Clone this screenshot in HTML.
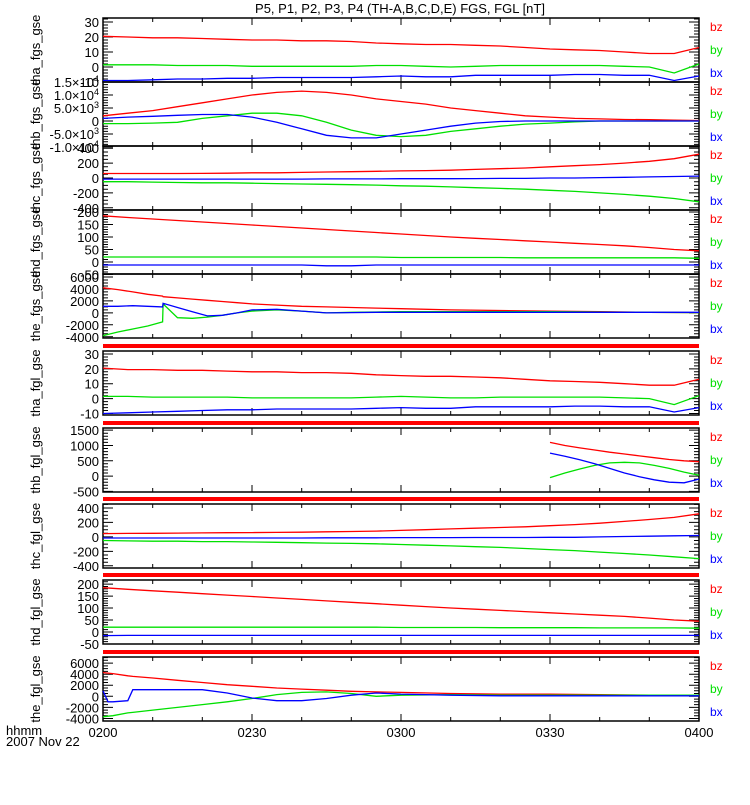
<!DOCTYPE html>
<html><head><meta charset="utf-8"><style>
html,body{margin:0;padding:0;background:#fff;}
svg text{font-family:"Liberation Sans",sans-serif;}
</style></head><body>
<svg id="chart" width="750" height="800" xmlns="http://www.w3.org/2000/svg">
<rect x="0" y="0" width="750" height="800" fill="#fff"/>
<text x="400" y="13" font-size="13" text-anchor="middle">P5, P1, P2, P3, P4 (TH-A,B,C,D,E) FGS, FGL [nT]</text>
<text x="6" y="735" font-size="13">hhmm</text>
<text x="6" y="746" font-size="13">2007 Nov 22</text>
<g id="panels"></g>
</svg>
<script>
const T = [0,5,10,15,20,25,30,35,40,45,50,55,60,65,70,75,80,85,90,95,100,105,110,115,120];
const xTickLabels = ["0200","0230","0300","0330","0400"];

const p1Bz = [20.5,20,19.5,19.5,19,18.5,18,18,17.5,17.5,17,16,15.5,15,15,14.5,14,13,12,11.5,11,10,9,9,13];
const p1By = [1.5,1.5,1.5,1,1,1,0.5,0.5,0.5,0.5,0.5,1,1,0.5,0,0.5,1,1,1,1,1,0.5,0,-4,2];
const p1Bx = [-9,-9,-8.5,-8,-8,-7.5,-7.5,-7,-7,-7,-7,-6.5,-6,-6.5,-6.5,-5.5,-5.5,-5.5,-5.5,-5,-5,-5.5,-5.5,-9,-6];

const p2Bz = [2000,3000,4000,5500,7000,8500,10000,11000,11500,11000,10000,8500,7500,6500,5000,4000,3000,2000,1500,1000,800,600,500,300,200];
const p2By = [-1000,-1000,-800,-500,1000,2000,3000,3000,2000,-500,-3500,-5500,-6000,-5500,-4000,-3000,-2000,-1200,-800,-300,0,0,0,0,0];
const p2Bx = [1000,1500,1800,2200,2500,2500,1500,-500,-3000,-5500,-6500,-6500,-5000,-3500,-2000,-800,-200,0,0,0,0,0,0,0,0];

const p3Bz = [60,60,60,60,62,65,70,70,75,80,85,90,95,100,105,115,125,135,150,165,180,200,225,260,320];
const p3By = [-50,-50,-55,-60,-65,-65,-70,-75,-80,-85,-90,-95,-105,-110,-120,-130,-140,-150,-165,-180,-200,-220,-245,-275,-320];
const p3Bx = [-15,-15,-15,-15,-15,-15,-15,-15,-15,-12,-12,-12,-10,-10,-10,-8,-5,-5,0,0,5,10,15,20,25];

const p4Bz = [185,178,172,166,160,154,148,142,136,130,124,118,112,106,100,95,90,85,80,75,70,65,58,50,45];
const p4By = [20,20,20,20,20,20,20,20,20,20,20,20,18,18,18,18,18,17,17,17,17,17,17,17,15];
const p4Bx = [-12,-12,-12,-12,-12,-12,-12,-12,-12,-15,-15,-12,-12,-12,-12,-12,-12,-12,-12,-12,-12,-12,-12,-12,-12];

const T5 = [0,3,6,9,12,12.1,15,18,21,24,27,30,35,40,45,50,55,60,70,80,90,100,110,120];
const p5Bz = [4200,3900,3500,3100,2800,2700,2500,2300,2100,1900,1700,1500,1300,1100,1000,900,800,700,500,400,300,200,100,50];
const p5By = [-3800,-3200,-2700,-2200,-1500,1500,-800,-900,-700,-400,0,300,500,300,0,100,150,200,200,200,200,150,100,50];
const p5Bx = [1100,1100,1200,1100,1000,1600,900,200,-500,-400,0,500,600,300,0,50,100,100,100,100,100,100,100,100];

const p6Bz = [20.5,19.5,19.5,19,19,18.5,18,18,17.5,17.5,17,16,15.5,15,15,14.5,14,13,12,11.5,11,10,9,9,13];
const p6By = [1.5,1.5,1,1,1,1,0.5,0.5,0.5,0.5,0.5,1,1.5,1,0.5,0.5,1,1,1,1,1,0.5,0,-4,2];
const p6Bx = [-10,-9.5,-9,-8.5,-8,-7.5,-7.5,-7,-7,-7,-7,-6.5,-6,-6.5,-6.5,-5.5,-5.5,-5.5,-5.5,-5,-5,-5.5,-5.5,-9,-6];

const T7 = [90,93,96,99,102,105,108,111,114,117,120];
const p7Bz = [1100,1000,920,850,780,720,660,600,540,500,470];
const p7By = [-50,100,230,350,430,450,430,350,250,130,30];
const p7Bx = [750,650,530,400,250,100,-20,-120,-200,-220,-100];

const p8Bz = [45,48,50,52,55,58,60,62,65,70,75,80,90,100,110,120,130,140,155,170,190,215,240,270,320];
const p8By = [-50,-55,-60,-60,-65,-65,-70,-75,-80,-85,-90,-95,-105,-115,-125,-135,-145,-160,-175,-190,-210,-230,-250,-275,-300];
const p8Bx = [-15,-15,-15,-15,-15,-15,-15,-15,-15,-12,-12,-12,-10,-10,-10,-8,-8,-8,-5,-5,0,5,10,15,20];

const p9Bz = [185,178,172,166,160,154,148,142,136,130,124,118,112,106,100,95,90,85,80,75,70,65,58,50,45];
const p9By = [20,20,20,20,20,20,20,20,20,20,20,20,19,19,19,19,18,18,18,18,17,17,17,17,16];
const p9Bx = [-15,-14,-14,-14,-14,-14,-14,-14,-14,-14,-14,-14,-14,-14,-14,-14,-14,-14,-14,-14,-14,-14,-14,-14,-14];

const T10 = [0,1,2,5,6,10,15,20,25,30,35,40,45,50,55,60,70,80,90,100,110,120];
const p10Bz = [4300,4200,4100,3700,3600,3300,2900,2500,2100,1800,1500,1300,1100,900,800,700,500,400,400,300,200,100];
const p10By = [-3700,-3600,-3500,-3000,-2900,-2500,-2000,-1500,-1000,-400,300,700,800,500,0,200,300,200,200,200,200,200];
const p10Bx = [1000,-1000,-1000,-800,1200,1200,1200,1200,600,-300,-800,-800,-400,200,600,400,200,100,100,100,100,100];

const panelDefs = [
 {name:"tha_fgs_gse",top:18,min:-10,max:32.7,major:[-10,0,10,20,30],minor:2,t:T,bz:p1Bz,by:p1By,bx:p1Bx},
 {name:"thb_fgs_gse",top:82,min:-9600,max:15000,major:[-10000,-5000,0,5000,10000,15000],minor:1000,sci:true,t:T,bz:p2Bz,by:p2By,bx:p2Bx},
 {name:"thc_fgs_gse",top:146,min:-430,max:430,major:[-400,-200,0,200,400],minor:50,t:T,bz:p3Bz,by:p3By,bx:p3Bx},
 {name:"thd_fgs_gse",top:210,min:-48,max:208,major:[-50,0,50,100,150,200],minor:10,t:T,bz:p4Bz,by:p4By,bx:p4Bx},
 {name:"the_fgs_gse",top:274,min:-4200,max:6500,major:[-4000,-2000,0,2000,4000,6000],minor:500,t:T5,bz:p5Bz,by:p5By,bx:p5Bx},
 {name:"tha_fgl_gse",top:351,min:-11,max:32,major:[-10,0,10,20,30],minor:2,t:T,bz:p6Bz,by:p6By,bx:p6Bx,bar:true},
 {name:"thb_fgl_gse",top:428,min:-520,max:1570,major:[-500,0,500,1000,1500],minor:100,t:T7,bz:p7Bz,by:p7By,bx:p7Bx,bar:true},
 {name:"thc_fgl_gse",top:504,min:-430,max:455,major:[-400,-200,0,200,400],minor:50,t:T,bz:p8Bz,by:p8By,bx:p8Bx,bar:true},
 {name:"thd_fgl_gse",top:580,min:-50,max:217,major:[-50,0,50,100,150,200],minor:10,t:T,bz:p9Bz,by:p9By,bx:p9Bx,bar:true},
 {name:"the_fgl_gse",top:657,min:-4460,max:7100,major:[-4000,-2000,0,2000,4000,6000],minor:500,t:T10,bz:p10Bz,by:p10By,bx:p10Bx,bar:true}
];

const NS = "http://www.w3.org/2000/svg";
const X0 = 103, X1 = 699, H = 64;
function xs(t){ return X0 + (X1 - X0) * t / 120; }
function mk(tag, attrs, parent){ const e = document.createElementNS(NS, tag); for (const k in attrs) e.setAttribute(k, attrs[k]); parent.appendChild(e); return e; }
const root = document.getElementById('panels');

panelDefs.forEach(function(p, pi){
  const g = mk('g', {}, root);
  
  
  const top = p.top, bot = p.top + H;
  const ys = function(v){ return bot - (v - p.min) / (p.max - p.min) * H; };
  if (p.bar) {
    const bar = mk('rect', {x:X0, y:top-7, width:X1-X0, height:4, fill:'#ff0000'}, g);
    
    
  }
  const frame = mk('rect', {x:X0, y:top, width:X1-X0, height:H, fill:'none', stroke:'#000', 'stroke-width':1.5}, g);
  
  
  let d = '';
  const start = Math.ceil(p.min / p.minor) * p.minor;
  for (let v = start; v <= p.max; v += p.minor) {
    const y = ys(v).toFixed(1);
    d += 'M' + X0 + ' ' + y + 'h5M' + X1 + ' ' + y + 'h-5';
  }
  p.major.forEach(function(v){
    const y = ys(v).toFixed(1);
    d += 'M' + X0 + ' ' + y + 'h10M' + X1 + ' ' + y + 'h-10';
  });
  for (let m = 10; m < 120; m += 10) {
    const x = xs(m).toFixed(1);
    const L = (m % 30 === 0) ? 7 : 4;
    d += 'M' + x + ' ' + bot + 'v-' + L + 'M' + x + ' ' + top + 'v' + L;
  }
  const ticks = mk('path', {d:d, stroke:'#000', 'stroke-width':1, fill:'none'}, g);
  
  
  p.major.forEach(function(v){
    const y = ys(v);
    const tx = mk('text', {x:99, y:(y+5).toFixed(1), 'font-size':13, 'text-anchor':'end'}, g);
    
    
    if (p.sci && v !== 0) {
      const e = Math.floor(Math.log10(Math.abs(v)));
      const m = (v / Math.pow(10, e)).toFixed(1);
      tx.appendChild(document.createTextNode(m + '\u00d710'));
      const sup = mk('tspan', {dy:-5, 'font-size':9}, tx);
      sup.textContent = String(e);
    } else {
      tx.textContent = String(v);
    }
  });
  const yl = mk('text', {x:0, y:0, 'font-size':13, 'text-anchor':'middle', transform:'translate(40,' + (top + H/2) + ') rotate(-90)'}, g);
  
  
  yl.textContent = p.name;
  [['bz','#ff0000',p.bz,9],['by','#00e000',p.by,32],['bx','#0000ff',p.bx,55]].forEach(function(s){
    let pts = '';
    p.t.forEach(function(t, i){ pts += xs(t).toFixed(1) + ',' + ys(s[2][i]).toFixed(1) + ' '; });
    const line = mk('polyline', {points:pts, fill:'none', stroke:s[1], 'stroke-width':1.3}, g);
    
    
    const lab = mk('text', {x:710, y:top + s[3] + 4, 'font-size':12, fill:s[1]}, g);
    
    
    lab.textContent = s[0];
  });
});
xTickLabels.forEach(function(l, i){
  const tx = mk('text', {x:xs(i*30).toFixed(1), y:737, 'font-size':13, 'text-anchor':'middle'}, root);
  
  
  tx.textContent = l;
});
</script>
</body></html>
